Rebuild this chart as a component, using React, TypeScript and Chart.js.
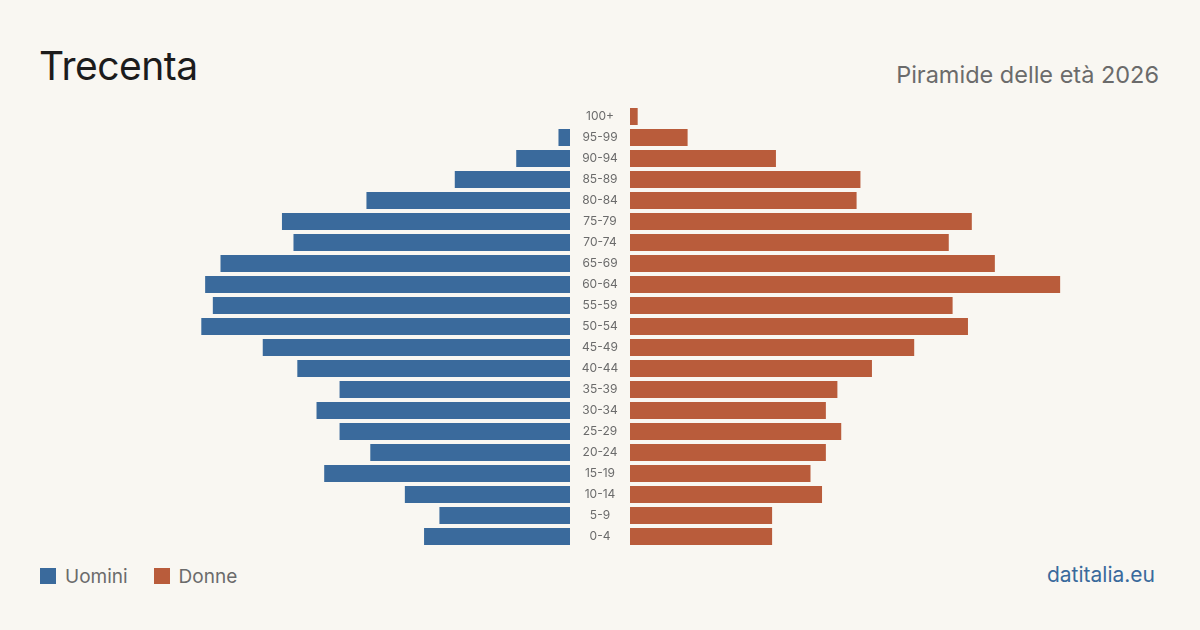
import React, { useEffect, useRef } from 'react';
import { Chart, registerables } from 'chart.js';

Chart.register(...registerables);

const ageGroups = ['100+', '95-99', '90-94', '85-89', '80-84', '75-79', '70-74', '65-69', '60-64', '55-59', '50-54', '45-49', '40-44', '35-39', '30-34', '25-29', '20-24', '15-19', '10-14', '5-9', '0-4'];
const men = [0, 3, 14, 30, 53, 75, 72, 91, 95, 93, 96, 80, 71, 60, 66, 60, 52, 64, 43, 34, 38];
const women = [2, 15, 38, 60, 59, 89, 83, 95, 112, 84, 88, 74, 63, 54, 51, 55, 51, 47, 50, 37, 37];
const axisMax = 138;

const BLUE = '#3a6a9c';
const ORANGE = '#b95c3b';
const BG = '#f9f7f2';
const FONT = 'Inter, "Noto Sans", sans-serif';

export default function App() {
  const leftRef = useRef<HTMLCanvasElement | null>(null);
  const rightRef = useRef<HTMLCanvasElement | null>(null);

  useEffect(() => {
    document.body.style.margin = '0';
    document.body.style.background = BG;
    const measure = document.createElement('canvas').getContext('2d')!;
    measure.font = '12px ' + FONT;
    let widest = 0;
    ageGroups.forEach((l) => { widest = Math.max(widest, measure.measureText(l).width); });
    const pad = 30 - widest / 2;

    const common: any = {
      indexAxis: 'y',
      animation: false,
      responsive: false,
      maintainAspectRatio: false,
      events: [],
      plugins: { legend: { display: false }, tooltip: { enabled: false } },
    };

    const left = new Chart(leftRef.current!, {
      type: 'bar',
      data: {
        labels: ageGroups,
        datasets: [{ label: 'Uomini', data: men, backgroundColor: BLUE, borderWidth: 0, categoryPercentage: 1, barPercentage: 17 / 21 }],
      },
      options: {
        ...common,
        layout: { padding: { left: 10, top: 10, bottom: 9, right: 0 } },
        scales: {
          x: { display: false, reverse: true, min: 0, max: axisMax },
          y: {
            position: 'right',
            grid: { display: false, drawTicks: false },
            border: { display: false },
            ticks: { autoSkip: false, crossAlign: 'center', padding: pad, color: '#6b6b6b', font: { family: FONT, size: 12 } },
            afterFit: (s: any) => { s.width = 60; s.paddingTop = 0; s.paddingBottom = 0; },
          },
        },
      },
    } as any);

    const right = new Chart(rightRef.current!, {
      type: 'bar',
      data: {
        labels: ageGroups,
        datasets: [{ label: 'Donne', data: women, backgroundColor: ORANGE, borderWidth: 0, categoryPercentage: 1, barPercentage: 17 / 21 }],
      },
      options: {
        ...common,
        layout: { padding: { left: 0, top: 10, bottom: 9, right: 10 } },
        scales: {
          x: { display: false, min: 0, max: axisMax },
          y: { display: false },
        },
      },
    } as any);

    return () => { left.destroy(); right.destroy(); };
  }, []);

  const abs = (s: React.CSSProperties): React.CSSProperties => ({ position: 'absolute', ...s });

  return (
    <div style={{ position: 'fixed', left: 0, top: 0, width: 1200, height: 630, background: BG, fontFamily: FONT, overflow: 'hidden' }}>
      <div style={abs({ left: 39, top: 42, fontSize: 39, color: '#1c1c1c', lineHeight: '48px', letterSpacing: '-0.5px' })}>Trecenta</div>
      <div style={abs({ right: 41, top: 59, fontSize: 23.5, color: '#6b6b6b', lineHeight: '32px' })}>Piramide delle età 2026</div>
      <canvas ref={leftRef} width={600} height={460} style={abs({ left: 30, top: 96, width: 600, height: 460 })} />
      <canvas ref={rightRef} width={540} height={460} style={abs({ left: 630, top: 96, width: 540, height: 460 })} />
      <div style={abs({ left: 40, top: 564, height: 24, display: 'flex', alignItems: 'center', fontSize: 19, color: '#6b6b6b' })}>
        <span style={{ width: 16, height: 16, background: BLUE, display: 'inline-block', marginRight: 9 }} />
        <span>Uomini</span>
        <span style={{ width: 16, height: 16, background: ORANGE, display: 'inline-block', marginLeft: 26, marginRight: 9 }} />
        <span>Donne</span>
      </div>
      <div style={abs({ right: 45, top: 561, fontSize: 21, color: BLUE, lineHeight: '28px' })}>datitalia.eu</div>
    </div>
  );
}
